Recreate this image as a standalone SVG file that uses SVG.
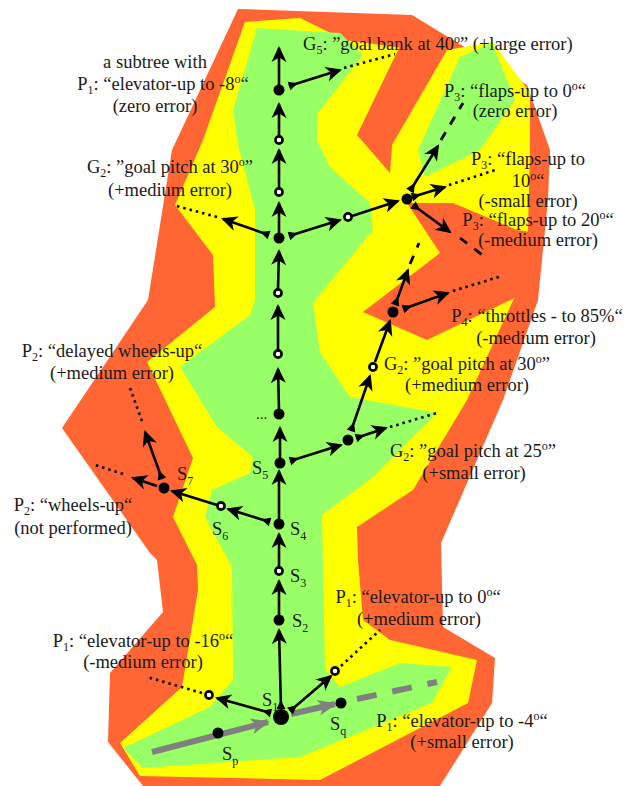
<svg xmlns="http://www.w3.org/2000/svg" width="634" height="786" viewBox="0 0 634 786">
<defs>
<style>
.or{fill:#FF6633}
.ye{fill:#FFFF00}
.gr{fill:#99FF66}
.ln{stroke:#000;stroke-width:2.6;fill:none}
.dot{stroke:#000;stroke-width:2.6;fill:none;stroke-dasharray:2.5 4}
.dash{stroke:#000;stroke-width:2.8;fill:none;stroke-dasharray:9 9}
.gl{stroke:#808080;stroke-width:6;fill:none}
.gd{stroke:#808080;stroke-width:6;fill:none;stroke-dasharray:20 16}
.fn{fill:#000}
.wn{fill:#fff;stroke:#000;stroke-width:2.6}
text{font-family:"Liberation Serif","Times New Roman",serif;font-size:18.5px;fill:#1a1a1a}
.m{text-anchor:middle}
.s{font-size:12px}
</style>
<marker id="ah" markerUnits="userSpaceOnUse" viewBox="-16 -9 19 18" refX="0" refY="0" markerWidth="19" markerHeight="18" orient="auto"><path d="M2,0 L-14,-7.5 L-9.5,0 L-14,7.5 Z" fill="#000"/></marker>
<marker id="tl" markerUnits="userSpaceOnUse" viewBox="-1 -6 12 12" refX="0" refY="0" markerWidth="12" markerHeight="12" orient="auto"><path d="M0,-4.5 L9,0 L0,4.5 Z" fill="#000"/></marker>
<marker id="gah" markerUnits="userSpaceOnUse" viewBox="-20 -10 23 20" refX="0" refY="0" markerWidth="23" markerHeight="20" orient="auto"><path d="M2,0 L-17,-8 L-12,0 L-17,8 Z" fill="#808080"/></marker>
</defs>

<g id="regions">
<path class="or" d="M238,9 L412,15 L527,85 L550,150 L548,200 L538,300 L503,400 L441,543 L443,627 L495,658 L492,703 L440,786 L143,786 L108,742 L110,673 L163,612 L157,560 L150,553 L62,428 L148,300 L172,150 Z"/>
<path class="ye" d="M245,22 L300,18 L345,40 L403,48 L447,50 L493,42 L530,93 L530,150 L528,230 L518,290 L467,400 L413,490 L357,527 L358,560 L363,620 L390,640 L477,660 L468,703 L320,780 L140,776 L120,743 L182,687 L198,590 L197,565 L173,517 L193,458 L147,362 L215,307 L213,255 L175,205 L203,140 Z"/>
<path class="or" d="M400,46 L447,50 L392,145 L390,173 L357,135 Z"/>
<path class="or" d="M407,203 L453,203 L517,230 L530,232 L525,300 L517,297 L427,340 L363,312 L440,253 Z"/>
<path class="gr" d="M257,28 L340,33 L363,55 L318,113 L317,140 L330,167 L370,203 L373,230 L313,303 L320,352 L350,397 L437,413 L373,477 L322,515 L325,670 L340,687 L400,663 L452,667 L432,703 L300,757 L143,768 L123,748 L210,707 L233,680 L232,567 L205,517 L212,490 L250,473 L253,457 L217,427 L180,367 L250,315 L255,300 L255,210 L238,145 L233,110 Z"/>
<path class="gr" d="M460,57 L492,43 L515,100 L480,150 L425,177 L418,150 Z"/>
</g>

<g id="connectors">
<path class="gl" d="M152,752 L268,722" marker-end="url(#gah)"/>
<path class="gl" d="M291,714 L335,704" marker-end="url(#gah)"/>
<path class="gd" d="M357,699 L437,682"/>
<path class="ln" d="M281,709 L279,630" marker-start="url(#tl)" marker-end="url(#ah)"/>
<path class="ln" d="M279,615 L279,581" marker-end="url(#ah)"/>
<path class="ln" d="M279,567 L279,534" marker-end="url(#ah)"/>
<path class="ln" d="M279,519 L279,471" marker-end="url(#ah)"/>
<path class="ln" d="M280,458 L280,428" marker-end="url(#ah)"/>
<path class="ln" d="M279,410 L278,369" marker-end="url(#ah)"/>
<path class="ln" d="M278,350 L278,306" marker-end="url(#ah)"/>
<path class="ln" d="M278,289 L279,251" marker-end="url(#ah)"/>
<path class="ln" d="M279,233 L279,203" marker-end="url(#ah)"/>
<path class="ln" d="M279,188 L279,150" marker-end="url(#ah)"/>
<path class="ln" d="M279,136 L279,104" marker-end="url(#ah)"/>
<path class="ln" d="M279,85 L279,48" marker-end="url(#ah)"/>
<path class="ln" d="M289,86 L340,70" marker-start="url(#tl)" marker-end="url(#ah)"/>
<path class="dot" d="M344,68 L395,54"/>
<path class="ln" d="M269,235 L223,219" marker-start="url(#tl)" marker-end="url(#ah)"/>
<path class="dot" d="M217,217 L173,205"/>
<path class="ln" d="M289,236 L340,220" marker-start="url(#tl)" marker-end="url(#ah)"/>
<path class="ln" d="M352,216 L398,201" marker-end="url(#ah)"/>
<path class="ln" d="M410,191 L438,146" marker-start="url(#tl)" marker-end="url(#ah)"/>
<path class="dash" d="M441,140 L463,103"/>
<path class="ln" d="M412,197 L445,187" marker-start="url(#tl)" marker-end="url(#ah)"/>
<path class="dot" d="M449,185 L495,170"/>
<path class="ln" d="M413,205 L450,232" marker-start="url(#tl)" marker-end="url(#ah)"/>
<path class="dash" d="M460,238 L485,257"/>
<path class="ln" d="M395,305 L408,270" marker-start="url(#tl)" marker-end="url(#ah)"/>
<path class="dash" d="M410,264 L419,243"/>
<path class="ln" d="M403,309 L448,293" marker-start="url(#tl)" marker-end="url(#ah)"/>
<path class="dot" d="M453,291 L502,276"/>
<path class="ln" d="M375,362 L390,321" marker-end="url(#ah)"/>
<path class="ln" d="M351,431 L370,376" marker-start="url(#tl)" marker-end="url(#ah)"/>
<path class="ln" d="M356,438 L386,428" marker-start="url(#tl)" marker-end="url(#ah)"/>
<path class="dot" d="M390,427 L437,413"/>
<path class="ln" d="M290,461 L341,445" marker-start="url(#tl)" marker-end="url(#ah)"/>
<path class="ln" d="M270,522 L228,509" marker-start="url(#tl)" marker-end="url(#ah)"/>
<path class="ln" d="M217,505 L172,491" marker-end="url(#ah)"/>
<path class="ln" d="M162,479 L145,432" marker-start="url(#tl)" marker-end="url(#ah)"/>
<path class="dot" d="M142,421 L130,388"/>
<path class="ln" d="M157,486 L133,478" marker-end="url(#ah)"/>
<path class="dot" d="M123,474 L95,465"/>
<path class="ln" d="M271,713 L217,698" marker-start="url(#tl)" marker-end="url(#ah)"/>
<path class="dot" d="M202,693 L147,677"/>
<path class="ln" d="M290,711 L331,676" marker-start="url(#tl)" marker-end="url(#ah)"/>
<path class="dot" d="M341,666 L380,630"/>
</g>

<g id="n-top"><circle class="fn" cx="279" cy="90" r="5.5"/></g>
<g id="n-w1"><circle class="wn" cx="279" cy="140" r="3.6"/></g>
<g id="n-w2"><circle class="wn" cx="279" cy="192" r="3.6"/></g>
<g id="n-g2a"><circle class="fn" cx="279" cy="238" r="5.5"/></g>
<g id="n-w3"><circle class="wn" cx="278" cy="293" r="3.6"/></g>
<g id="n-w4"><circle class="wn" cx="278" cy="354" r="3.6"/></g>
<g id="n-dots"><circle class="fn" cx="279" cy="414" r="5.5"/><text x="256" y="419" style="font-size:15px">...</text></g>
<g id="n-s5"><circle class="fn" cx="280" cy="463" r="5.5"/><text x="252" y="474">S<tspan dy="5" class="s">5</tspan></text></g>
<g id="n-s4"><circle class="fn" cx="279" cy="524" r="5.5"/><text x="290" y="535">S<tspan dy="5" class="s">4</tspan></text></g>
<g id="n-s3"><circle class="wn" cx="279" cy="571" r="3.6"/><text x="290" y="582">S<tspan dy="5" class="s">3</tspan></text></g>
<g id="n-s2"><circle class="fn" cx="279" cy="620" r="5.5"/><text x="292" y="627">S<tspan dy="5" class="s">2</tspan></text></g>
<g id="n-s1"><circle class="fn" cx="281" cy="717" r="8"/><text x="262" y="706">S<tspan dy="5" class="s">1</tspan></text></g>
<g id="n-sp"><circle class="fn" cx="218" cy="733" r="5.5"/><text x="222" y="760">S<tspan dy="5" class="s">p</tspan></text></g>
<g id="n-sq"><circle class="fn" cx="341" cy="703" r="5.5"/><text x="330" y="730">S<tspan dy="5" class="s">q</tspan></text></g>
<g id="n-s6"><circle class="wn" cx="221" cy="506" r="3.6"/><text x="212" y="535">S<tspan dy="5" class="s">6</tspan></text></g>
<g id="n-s7"><circle class="fn" cx="164" cy="488" r="5.5"/><text x="177" y="480">S<tspan dy="5" class="s">7</tspan></text></g>
<g id="n-p1m16"><circle class="wn" cx="209" cy="695" r="3.6"/></g>
<g id="n-p10"><circle class="wn" cx="335" cy="671" r="3.6"/></g>
<g id="n-wr1"><circle class="wn" cx="348" cy="217" r="3.6"/></g>
<g id="n-nr1"><circle class="fn" cx="407" cy="199" r="5.5"/></g>
<g id="n-nr2"><circle class="fn" cx="393" cy="312" r="5.5"/></g>
<g id="n-wr2"><circle class="wn" cx="373" cy="367" r="3.6"/></g>
<g id="n-nr3"><circle class="fn" cx="348" cy="440" r="5.5"/></g>

<g id="labels">
<text class="m" x="155" y="68">a subtree with</text>
<text class="m" x="163" y="90">P<tspan dy="4" class="s">1</tspan><tspan dy="-4">: “elevator-up to -8</tspan><tspan dy="-7" class="s">o</tspan><tspan dy="7">“</tspan></text>
<text class="m" x="155" y="112">(zero error)</text>
<text x="303" y="50">G<tspan dy="4" class="s">5</tspan><tspan dy="-4">: ”goal bank at 40</tspan><tspan dy="-7" class="s">o</tspan><tspan dy="7">”  (+large error)</tspan></text>
<text class="m" x="515" y="97">P<tspan dy="4" class="s">3</tspan><tspan dy="-4">: “flaps-up to 0</tspan><tspan dy="-7" class="s">o</tspan><tspan dy="7">“</tspan></text>
<text class="m" x="515" y="117">(zero error)</text>
<text class="m" x="528" y="165">P<tspan dy="4" class="s">3</tspan><tspan dy="-4">: “flaps-up to</tspan></text>
<text class="m" x="528" y="187">10<tspan dy="-7" class="s">o</tspan><tspan dy="7">“</tspan></text>
<text class="m" x="528" y="207">(-small error)</text>
<text class="m" x="538" y="226">P<tspan dy="4" class="s">3</tspan><tspan dy="-4">: “flaps-up to 20</tspan><tspan dy="-7" class="s">o</tspan><tspan dy="7">“</tspan></text>
<text class="m" x="538" y="246">(-medium error)</text>
<text class="m" x="537" y="322">P<tspan dy="4" class="s">4</tspan><tspan dy="-4">: “throttles - to 85%“</tspan></text>
<text class="m" x="536" y="344">(-medium error)</text>
<text class="m" x="467" y="370">G<tspan dy="4" class="s">2</tspan><tspan dy="-4">: ”goal pitch at 30</tspan><tspan dy="-7" class="s">o</tspan><tspan dy="7">”</tspan></text>
<text class="m" x="467" y="391">(+medium error)</text>
<text class="m" x="473" y="457">G<tspan dy="4" class="s">2</tspan><tspan dy="-4">: ”goal pitch at 25</tspan><tspan dy="-7" class="s">o</tspan><tspan dy="7">”</tspan></text>
<text class="m" x="474" y="479">(+small error)</text>
<text class="m" x="170" y="173">G<tspan dy="4" class="s">2</tspan><tspan dy="-4">: ”goal pitch at 30</tspan><tspan dy="-7" class="s">o</tspan><tspan dy="7">”</tspan></text>
<text class="m" x="170" y="196">(+medium error)</text>
<text class="m" x="112" y="357">P<tspan dy="4" class="s">2</tspan><tspan dy="-4">: “delayed wheels-up“</tspan></text>
<text class="m" x="112" y="379">(+medium error)</text>
<text class="m" x="73" y="511">P<tspan dy="4" class="s">2</tspan><tspan dy="-4">: “wheels-up“</tspan></text>
<text class="m" x="73" y="534">(not performed)</text>
<text class="m" x="143" y="647">P<tspan dy="4" class="s">1</tspan><tspan dy="-4">: “elevator-up to -16</tspan><tspan dy="-7" class="s">o</tspan><tspan dy="7">“</tspan></text>
<text class="m" x="143" y="668">(-medium error)</text>
<text class="m" x="418" y="603">P<tspan dy="4" class="s">1</tspan><tspan dy="-4">: “elevator-up to 0</tspan><tspan dy="-7" class="s">o</tspan><tspan dy="7">“</tspan></text>
<text class="m" x="419" y="625">(+medium error)</text>
<text class="m" x="462" y="727">P<tspan dy="4" class="s">1</tspan><tspan dy="-4">: “elevator-up to -4</tspan><tspan dy="-7" class="s">o</tspan><tspan dy="7">“</tspan></text>
<text class="m" x="462" y="748">(+small error)</text>
</g>
</svg>
